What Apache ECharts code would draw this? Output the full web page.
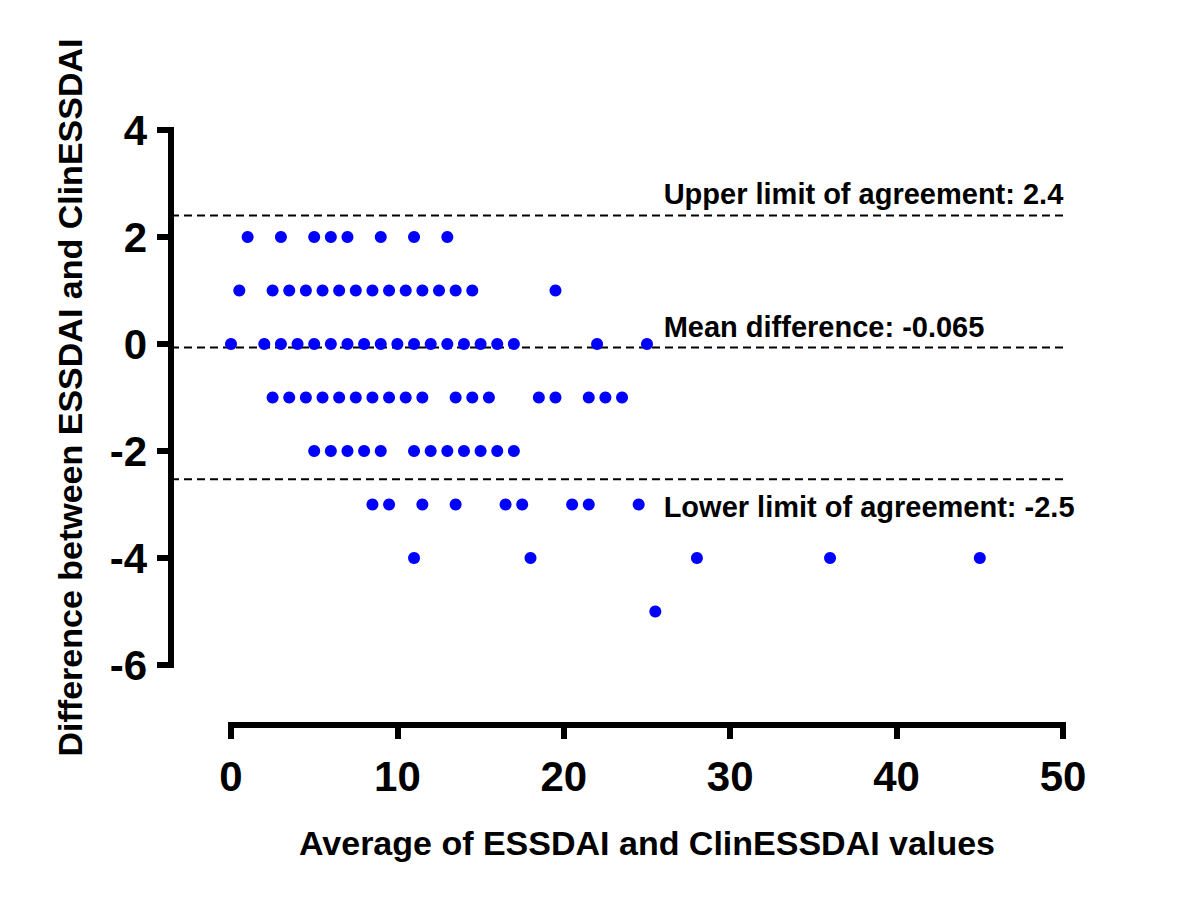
<!DOCTYPE html>
<html>
<head>
<meta charset="utf-8">
<script src="https://cdn.jsdelivr.net/npm/echarts@6/dist/echarts.min.js"></script>
<style>html,body{margin:0;padding:0;background:#fff}#c{width:1200px;height:906px}</style>
</head>
<body>
<div id="c"></div>
<script>
// Data: [average, difference]
var rowPlus2 = [1, 3, 5, 6, 7, 9, 11, 13];
var rowPlus1 = [0.5, 2.5, 3.5, 4.5, 5.5, 6.5, 7.5, 8.5, 9.5, 10.5, 11.5, 12.5, 13.5, 14.5, 19.5];
var rowZero = [0, 2, 3, 4, 5, 6, 7, 8, 9, 10, 11, 12, 13, 14, 15, 16, 17, 22, 25];
var rowMinus1 = [2.5, 3.5, 4.5, 5.5, 6.5, 7.5, 8.5, 9.5, 10.5, 11.5, 13.5, 14.5, 15.5, 18.5, 19.5, 21.5, 22.5, 23.5];
var rowMinus2 = [5, 6, 7, 8, 9, 11, 12, 13, 14, 15, 16, 17];
var rowMinus3 = [8.5, 9.5, 11.5, 13.5, 16.5, 17.5, 20.5, 21.5, 24.5];
var rowMinus4 = [11, 18, 28, 36, 45];
var rowMinus5 = [25.5];

var rows = [[2, rowPlus2], [1, rowPlus1], [0, rowZero], [-1, rowMinus1], [-2, rowMinus2], [-3, rowMinus3], [-4, rowMinus4], [-5, rowMinus5]];

var limitValues = [2.4, -0.065, -2.53];
var limitLabels = ['Upper limit of agreement: 2.4', 'Mean difference: -0.065', 'Lower limit of agreement: -2.5'];
var labelX = 26;

var xTicks = [0, 10, 20, 30, 40, 50];
var yTicks = [-6, -4, -2, 0, 2, 4];

var points = [];
rows.forEach(function (r) { r[1].forEach(function (x) { points.push([x, r[0]]); }); });

var FONT = "'Liberation Sans', Arial, sans-serif";

var chart = echarts.init(document.getElementById('c'), null, { renderer: 'svg' });

var limitSeries = limitValues.map(function (v) {
  return {
    type: 'line', xAxisIndex: 1, yAxisIndex: 1, silent: true, symbol: 'none',
    data: [[0, v], [1, v]],
    lineStyle: { color: '#000', width: 2, type: [8, 5], opacity: 1 },
    z: 1
  };
});

chart.setOption({
  backgroundColor: '#fff',
  animation: false,
  grid: [
    { left: 231, right: 137, top: 130, bottom: 241, containLabel: false, outerBoundsMode: 'none' },
    { left: 171, right: 137, top: 130, bottom: 241, containLabel: false, outerBoundsMode: 'none' }
  ],
  xAxis: [{
    type: 'value', min: 0, max: 50, interval: 10, gridIndex: 0,
    offset: 60,
    name: 'Average of ESSDAI and ClinESSDAI values',
    nameLocation: 'middle', nameGap: 101,
    nameTextStyle: { fontFamily: FONT, fontWeight: 'bold', fontSize: 34, color: '#000' },
    axisLine: { show: true, onZero: false, lineStyle: { color: '#000', width: 6, cap: 'square' } },
    axisTick: { show: true, length: 14, lineStyle: { color: '#000', width: 6 } },
    axisLabel: { margin: 30, fontFamily: FONT, fontWeight: 'bold', fontSize: 42, color: '#000' },
    splitLine: { show: false }
  }, {
    type: 'value', min: 0, max: 1, gridIndex: 1, show: false
  }],
  yAxis: [{
    type: 'value', min: -6, max: 4, interval: 2, gridIndex: 0,
    offset: 60,
    name: 'Difference between ESSDAI and ClinESSDAI',
    nameLocation: 'middle', nameGap: 84, nameRotate: 90,
    nameTextStyle: { fontFamily: FONT, fontWeight: 'bold', fontSize: 34, color: '#000' },
    axisLine: { show: true, onZero: false, lineStyle: { color: '#000', width: 6, cap: 'square' } },
    axisTick: { show: true, length: 14, lineStyle: { color: '#000', width: 6 } },
    axisLabel: { margin: 24, fontFamily: FONT, fontWeight: 'bold', fontSize: 42, color: '#000' },
    splitLine: { show: false }
  }, {
    type: 'value', min: -6, max: 4, gridIndex: 1, show: false
  }],
  series: limitSeries.concat([
    {
      type: 'scatter', xAxisIndex: 0, yAxisIndex: 0,
      data: points, symbol: 'circle', symbolSize: 12,
      itemStyle: { color: '#0000FF', opacity: 1 },
      z: 3
    },
    {
      type: 'scatter', xAxisIndex: 0, yAxisIndex: 0, silent: true,
      symbolSize: 0,
      itemStyle: { opacity: 1 },
      data: limitValues.map(function (v, i) { return { value: [labelX, v], name: limitLabels[i] }; }),
      label: {
        show: true, position: 'right', distance: 0,
        formatter: function (p) { return p.name; },
        fontFamily: FONT, fontWeight: 'bold', fontSize: 29, color: '#000'
      },
      labelLayout: function (params) {
        var i = params.dataIndex;
        var dy = i === 2 ? 28 : (i === 1 ? -20 : -22);
        return { dy: dy };
      },
      z: 4
    }
  ])
});
</script>
</body>
</html>
